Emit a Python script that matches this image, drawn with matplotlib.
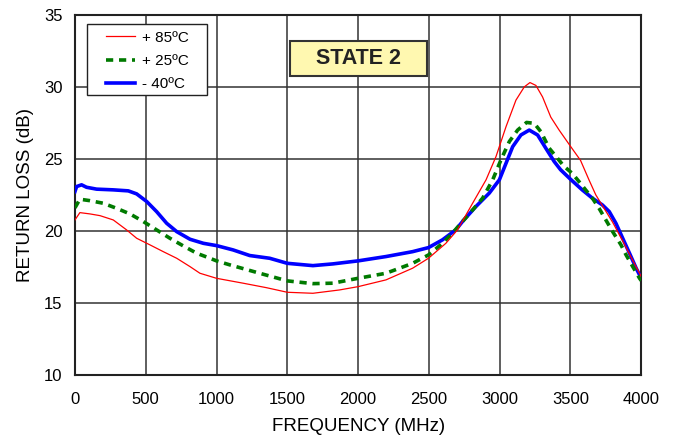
import matplotlib
matplotlib.use("Agg")
import matplotlib.pyplot as plt
from matplotlib.patches import Rectangle

plt.rcParams['font.family'] = ['Liberation Sans', 'DejaVu Sans']

# +85C
red_f = [0, 35, 106, 177, 271, 365, 436, 530, 624, 719, 813, 883, 1000, 1188, 1352, 1500, 1681,
         1868, 2000, 2197, 2385, 2497, 2620, 2702, 2810, 2904, 2974, 3045, 3115, 3174, 3214,
         3256, 3303, 3361, 3420, 3502, 3571, 3631, 3679, 3726, 3798, 3869, 3940, 4000]
red_rl = [20.76, 21.27, 21.18, 21.06, 20.76, 20.07, 19.49, 19.03, 18.56, 18.1, 17.52, 17.06, 16.71,
          16.37, 16.06, 15.74, 15.67, 15.9, 16.13, 16.6, 17.41, 18.1, 19.14, 20.07, 21.94, 23.55,
          25.16, 27.24, 29.08, 30.0, 30.3, 30.1, 29.3, 27.9, 27.0, 25.85, 24.9, 23.54, 22.5, 21.75,
          20.6, 19.3, 17.95, 16.83]

# +25C
green_f = [0, 35, 106, 200, 294, 389, 483, 577, 671, 765, 860, 954, 1000, 1095, 1164, 1305, 1500,
           1681, 1822, 2000, 2197, 2385, 2497, 2596, 2666, 2739, 2810, 2880, 2951, 3009, 3068,
           3127, 3190, 3244, 3291, 3350, 3408, 3452, 3512, 3560, 3607, 3655, 3702, 3750, 3798,
           3857, 3893, 3940, 3988, 4000]
green_rl = [21.6, 22.2, 22.1, 21.92, 21.57, 21.18, 20.65, 20.07, 19.49, 18.96, 18.45, 18.1, 17.92,
            17.64, 17.45, 17.06, 16.53, 16.34, 16.37, 16.71, 17.06, 17.75, 18.33, 19.14, 19.84,
            20.67, 21.47, 22.28, 23.55, 24.93, 26.2, 27.0, 27.53, 27.47, 26.89, 25.74, 25.05,
            24.51, 24.0, 23.43, 22.85, 22.27, 21.57, 20.76, 19.95, 19.03, 18.33, 17.52, 16.71, 16.55]

# -40C
blue_f = [0, 12, 47, 82, 153, 271, 377, 436, 507, 577, 648, 719, 813, 907, 1000, 1117, 1235,
          1376, 1500, 1681, 1822, 2000, 2197, 2385, 2497, 2596, 2690, 2739, 2833, 2927, 2998,
          3045, 3092, 3150, 3209, 3268, 3326, 3385, 3430, 3500, 3583, 3655, 3726, 3774, 3821,
          3869, 3917, 3964, 4000]
blue_rl = [22.73, 23.08, 23.2, 23.03, 22.9, 22.85, 22.78, 22.57, 22.04, 21.34, 20.53, 19.95, 19.42,
           19.14, 18.98, 18.68, 18.29, 18.1, 17.75, 17.59, 17.71, 17.92, 18.22, 18.56, 18.84, 19.38,
           20.07, 20.67, 21.7, 22.63, 23.55, 24.7, 25.85, 26.66, 27.0, 26.66, 25.74, 24.82, 24.25,
           23.59, 22.85, 22.27, 21.8, 21.34, 20.53, 19.49, 18.45, 17.41, 16.71]

legend_labels = ['+ 85ºC', '+ 25ºC', '- 40ºC']

fig = plt.figure(figsize=(6.75, 4.37), dpi=100)
ax = fig.add_axes([0.111, 0.142, 0.839, 0.824])

l3, = ax.plot(blue_f, blue_rl, color='#0000ff', lw=2.6, zorder=3)
l2, = ax.plot(green_f, green_rl, color='#007a00', lw=2.6, linestyle=(0, (2, 1.6)), zorder=4)
l1, = ax.plot(red_f, red_rl, color='#ff0000', lw=0.9, zorder=5)

ax.set_xlim(0, 4000)
ax.set_ylim(10, 35)
ax.set_xticks(range(0, 4001, 500))
ax.set_yticks(range(10, 36, 5))
ax.grid(True, color='#333333', lw=1.1)
ax.set_axisbelow(True)
for s in ax.spines.values():
    s.set_linewidth(1.5)
    s.set_color('#222222')
ax.tick_params(labelsize=12, length=0)
ax.tick_params(axis='x', pad=12)
ax.tick_params(axis='y', pad=9)
ax.set_xlabel('FREQUENCY (MHz)', fontsize=13.5, labelpad=8)
ax.set_ylabel('RETURN LOSS (dB)', fontsize=13.5, labelpad=7)

# legend with a hand placed frame
ax.add_patch(Rectangle((0.0212, 0.7778), 0.212, 0.1972, transform=ax.transAxes,
                       fc='white', ec='#222222', lw=1.0, zorder=6))
leg = ax.legend([l1, l2, l3], legend_labels, loc='upper left', bbox_to_anchor=(0.054, 0.956),
                fontsize=11, frameon=False, handlelength=1.92, handletextpad=0.44,
                borderpad=0, borderaxespad=0, labelspacing=0.6)
leg.set_zorder(7)

# STATE 2 tag
ax.add_patch(Rectangle((0.3799, 0.8306), 0.242, 0.0972, transform=ax.transAxes,
                       fc='#fff8b0', ec='#333333', lw=1.5, zorder=6))
ax.text(0.5006, 0.8778, 'STATE 2', transform=ax.transAxes, fontsize=15.5, fontweight='bold',
        color='#222222', ha='center', va='center', zorder=7)

fig.savefig('out.png', dpi=100)
